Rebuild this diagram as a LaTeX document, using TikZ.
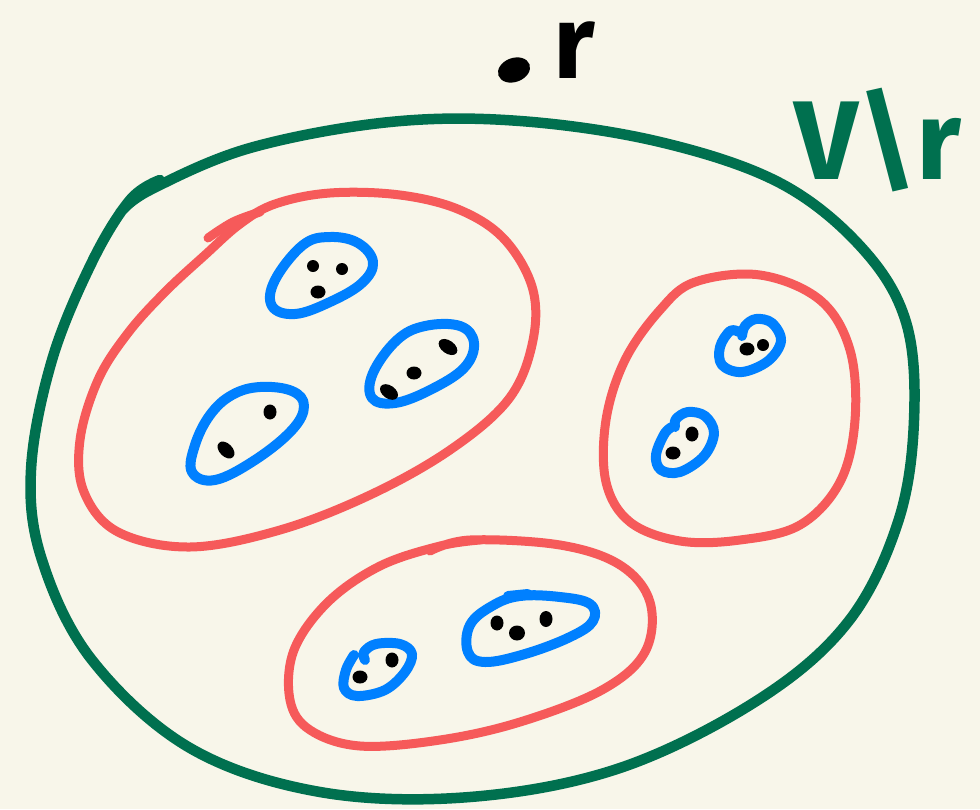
\documentclass[tikz,border=0pt]{standalone}
\usepackage{fontspec}
\setmainfont{Fira Sans}
\usetikzlibrary{shapes.geometric}
\definecolor{bg}{HTML}{F8F6EA}
\definecolor{setgreen}{HTML}{00704F}
\definecolor{setred}{HTML}{F65A5A}
\definecolor{setblue}{HTML}{0080FF}
\begin{document}
\begin{tikzpicture}[x=1pt,y=-1pt,
  greenline/.style={draw=setgreen,line width=10.5pt,line cap=round,line join=round},
  redline/.style={draw=setred,line width=9pt,line cap=round,line join=round},
  blueline/.style={draw=setblue,line width=10pt,line cap=round,line join=round},
  vertex/.style={fill=black,ellipse,inner sep=0pt,minimum width=15pt,minimum height=13pt},
  smallvertex/.style={fill=black,ellipse,inner sep=0pt,minimum width=12pt,minimum height=12pt}]
\fill[bg] (0,0) rectangle (980,809);
\useasboundingbox (0,0) rectangle (980,809);
% outer green set V\r
\draw[greenline] plot[smooth,tension=0.6] coordinates {(120,213) (150,190) (250,148) (390,122) (520,121) (660,142) (780,183) (862,248) (906,322) (914,420) (898,522) (848,622) (758,700) (620,768) (470,797) (320,792) (190,748) (92,660) (42,560) (31,470) (52,360) (92,262) (130,200) (160,180)};
% labels
\node[vertex,minimum width=33pt,minimum height=24pt,rotate=20] (rvertex) at (514,70) {};
\node[font=\bfseries\fontsize{104}{104}\selectfont,anchor=base] (rlabel) at (574,78) {r};
\node[text=setgreen,font=\bfseries\fontsize{112}{112}\selectfont,anchor=base] (vlabel) at (878,179) {V\textbackslash r};
% red sets
\draw[redline] plot[smooth cycle,tension=0.6] coordinates {(275,204) (330,193) (400,195) (460,210) (505,240) (533,290) (532,345) (508,400) (450,450) (370,495) (280,530) (190,547) (118,532) (84,492) (80,440) (98,380) (128,333) (165,292) (205,255) (240,224)};
\draw[redline] plot[smooth,tension=0.6] coordinates {(208,238) (233,222) (260,212)};
\draw[redline] plot[smooth cycle,tension=0.6] coordinates {(695,282) (760,275) (820,300) (850,350) (855,420) (840,482) (800,525) (740,540) (680,541) (630,522) (606,482) (606,420) (625,360) (660,310)};
\draw[redline] plot[smooth,tension=0.6] coordinates {(430,551) (470,540) (560,545) (620,565) (650,602) (645,652) (602,690) (520,722) (440,740) (360,746) (310,730) (290,700) (294,650) (328,602) (380,566) (440,546) (480,540)};
% blue sets
\draw[blueline] plot[smooth cycle,tension=0.65] coordinates {(303,245) (330,237) (358,243) (373,262) (362,283) (330,302) (295,314) (272,306) (275,280)};
\draw[blueline] plot[smooth cycle,tension=0.65] coordinates {(397,340) (425,326) (460,326) (474,343) (464,368) (430,390) (395,403) (372,398) (373,373)};
\draw[blueline] plot[smooth cycle,tension=0.65] coordinates {(232,395) (260,387) (292,391) (304,406) (292,430) (255,460) (215,480) (192,472) (195,445) (210,415)};
\draw[blueline] plot[smooth,tension=0.6] coordinates {(739,332) (730,331) (720,347) (722,365) (742,372) (768,361) (781,341) (772,323) (756,319) (745,326) (742,336)};
\draw[blueline] plot[smooth,tension=0.6] coordinates {(674,426) (665,433) (656,455) (661,470) (680,472) (704,456) (714,433) (705,416) (688,412) (676,419) (675,427)};
\draw[blueline] plot[smooth,tension=0.6] coordinates {(354,655) (346,670) (344,688) (357,696) (385,690) (405,672) (412,654) (400,644) (376,644) (364,652) (365,660)};
\draw[blueline] plot[smooth cycle,tension=0.65] coordinates {(470,625) (492,606) (520,596) (560,597) (590,604) (593,621) (570,637) (525,654) (485,662) (468,652)};
\draw[blueline] (508,596) -- (528,594);
% vertices
\node[smallvertex] (a1) at (313,266) {};
\node[smallvertex] (a2) at (342,269) {};
\node[vertex] (a3) at (318,292) {};
\node[vertex,minimum width=21pt,rotate=-35] (b1) at (448,347) {};
\node[vertex] (b2) at (414,373) {};
\node[vertex,minimum width=20pt,rotate=-35] (b3) at (389,392) {};
\node[vertex,minimum width=13pt,minimum height=15pt] (c1) at (270,412) {};
\node[vertex,minimum width=20pt,rotate=-45] (c2) at (226,450) {};
\node[vertex] (d1) at (747,349) {};
\node[smallvertex] (d2) at (763,345) {};
\node[vertex,minimum width=13pt,minimum height=15pt] (e1) at (692,434) {};
\node[vertex] (e2) at (673,453) {};
\node[vertex] (f1) at (360,677) {};
\node[vertex,minimum width=13pt,minimum height=15pt] (f2) at (392,660) {};
\node[vertex,minimum width=13pt,minimum height=15pt] (g1) at (497,623) {};
\node[vertex,minimum width=16pt,minimum height=15pt] (g2) at (517,633) {};
\node[vertex,minimum width=13pt,minimum height=16pt] (g3) at (546,619) {};
\end{tikzpicture}
\end{document}
